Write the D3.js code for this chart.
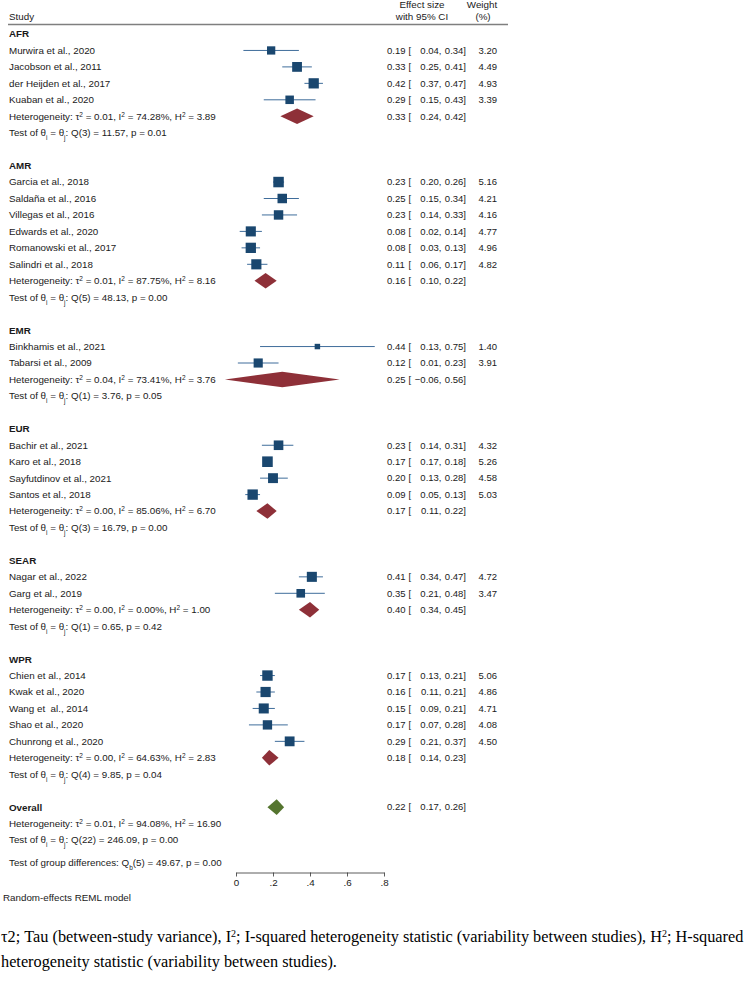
<!DOCTYPE html>
<html>
<head>
<meta charset="utf-8">
<script src="https://cdn.jsdelivr.net/npm/d3@7"></script>
<style>
  body { margin: 0; background: #fff; }
  svg text { font-family: "Liberation Sans", Arial, sans-serif; font-size: 9.8px; fill: #1a1a1a; white-space: pre; }
  svg text.num { font-size: 9.5px; }
  svg text.caption { font-family: "Liberation Serif", "Times New Roman", serif; font-size: 16.3px; fill: #000; }
</style>
</head>
<body>
<div id="chart"></div>
<script>
// forest plot, random-effects REML, grouped by WHO region

const groups = ["AFR", "AMR", "EMR", "EUR", "SEAR", "WPR"];

const studyNames = [
  "Murwira et al., 2020", "Jacobson et al., 2011", "der Heijden et al., 2017", "Kuaban et al., 2020",
  "Garcia et al., 2018", "Saldaña et al., 2016", "Villegas et al., 2016", "Edwards et al., 2020",
  "Romanowski et al., 2017", "Salindri et al., 2018",
  "Binkhamis et al., 2021", "Tabarsi et al., 2009",
  "Bachir et al., 2021", "Karo et al., 2018", "Sayfutdinov et al., 2021", "Santos et al., 2018",
  "Nagar et al., 2022", "Garg et al., 2019",
  "Chien et al., 2014", "Kwak et al., 2020", "Wang et  al., 2014", "Shao et al., 2020", "Chunrong et al., 2020"
];
const studyGroup = [
  "AFR", "AFR", "AFR", "AFR",
  "AMR", "AMR", "AMR", "AMR", "AMR", "AMR",
  "EMR", "EMR",
  "EUR", "EUR", "EUR", "EUR",
  "SEAR", "SEAR",
  "WPR", "WPR", "WPR", "WPR", "WPR"
];
const studyEst = [0.19, 0.33, 0.42, 0.29, 0.23, 0.25, 0.23, 0.08, 0.08, 0.11, 0.44, 0.12,
                  0.23, 0.17, 0.20, 0.09, 0.41, 0.35, 0.17, 0.16, 0.15, 0.17, 0.29];
const studyLo  = [0.04, 0.25, 0.37, 0.15, 0.20, 0.15, 0.14, 0.02, 0.03, 0.06, 0.13, 0.01,
                  0.14, 0.17, 0.13, 0.05, 0.34, 0.21, 0.13, 0.11, 0.09, 0.07, 0.21];
const studyHi  = [0.34, 0.41, 0.47, 0.43, 0.26, 0.34, 0.33, 0.14, 0.13, 0.17, 0.75, 0.23,
                  0.31, 0.18, 0.28, 0.13, 0.47, 0.48, 0.21, 0.21, 0.21, 0.28, 0.37];
const studyWeight = [3.20, 4.49, 4.93, 3.39, 5.16, 4.21, 4.16, 4.77, 4.96, 4.82, 1.40, 3.91,
                     4.32, 5.26, 4.58, 5.03, 4.72, 3.47, 5.06, 4.86, 4.71, 4.08, 4.50];

const groupEst = [0.33, 0.16, 0.25, 0.17, 0.40, 0.18];
const groupLo  = [0.24, 0.10, -0.06, 0.11, 0.34, 0.14];
const groupHi  = [0.42, 0.22, 0.56, 0.22, 0.45, 0.23];
const groupTau2 = ["0.01", "0.01", "0.04", "0.00", "0.00", "0.00"];
const groupI2   = ["74.28", "87.75", "73.41", "85.06", "0.00", "64.63"];
const groupH2   = ["3.89", "8.16", "3.76", "6.70", "1.00", "2.83"];
const groupDf   = [3, 5, 1, 3, 1, 4];
const groupQ    = ["11.57", "48.13", "3.76", "16.79", "0.65", "9.85"];
const groupP    = ["0.01", "0.00", "0.05", "0.00", "0.42", "0.04"];

const overallCI = [0.22, 0.17, 0.26];          // est, lower, upper
const overallHet = ["0.01", "94.08", "16.90"]; // tau2, I2, H2
const overallTest = [22, "246.09", "0.00"];    // df, Q, p
const groupDiffTest = [5, "49.67", "0.00"];    // df, Qb, p

const xTicks = [0, 0.2, 0.4, 0.6, 0.8];

const W = 750, H = 984;
const rowStep = 16.45, firstRow = 34;
const navy = "#1a476f", maroon = "#8e3038", green = "#55752f";

const svg = d3.select("#chart").append("svg")
  .attr("width", W)
  .attr("height", H);

const x = d3.scaleLinear().domain([0, 0.8]).range([236, 384]);
const y = d3.scaleLinear().domain([0, 1]).range([firstRow, firstRow + rowStep]);
const side = d3.scaleSqrt().domain([0, d3.max(studyWeight)]).range([0, 10.6]);
const f2 = d3.format(".2f");

// text with sup / sub pieces
function rich(sel, parts, small) {
  parts.forEach(function(p) {
    const ts = sel.append("tspan").text(p[0]);
    if (p[1] === "sup") ts.attr("baseline-shift", "super").style("font-size", small || "6.5px");
    if (p[1] === "sub") ts.attr("baseline-shift", "sub").style("font-size", small || "6.5px");
  });
}
function label(yy, txt, bold) {
  return svg.append("text")
    .attr("x", 9).attr("y", yy).attr("dy", "0.35em")
    .attr("font-weight", bold ? "bold" : null)
    .text(txt);
}
function hetLine(yy, st) {
  rich(label(yy, ""), [["Heterogeneity: τ"], ["2", "sup"], [" = " + st[0] + ", I"], ["2", "sup"],
    [" = " + st[1] + "%, H"], ["2", "sup"], [" = " + st[2]]]);
}
function testLine(yy, df, q, p) {
  rich(label(yy, ""), [["Test of θ"], ["i", "sub"], [" = θ"], ["j", "sub"],
    [": Q(" + df + ") = " + q + ", p = " + p]]);
}
function ciText(yy, est, lo, hi) {
  const g = svg.append("g").attr("transform", "translate(0," + yy + ")");
  g.append("text").attr("class", "num").attr("x", 387).attr("dy", "0.35em").text(f2(est));
  g.append("text").attr("class", "num").attr("x", 408.5).attr("dy", "0.35em").text("[");
  g.append("text").attr("class", "num").attr("x", 441.5).attr("dy", "0.35em").attr("text-anchor", "end").text(f2(lo) + ",");
  g.append("text").attr("class", "num").attr("x", 466).attr("dy", "0.35em").attr("text-anchor", "end").text(f2(hi) + "]");
}
function diamond(yy, est, lo, hi, col) {
  const hh = 7.8;
  svg.append("path")
    .attr("d", "M" + x(lo) + "," + yy + "L" + x(est) + "," + (yy - hh) +
               "L" + x(hi) + "," + yy + "L" + x(est) + "," + (yy + hh) + "Z")
    .attr("fill", col);
}

// header
svg.append("text").attr("x", 9).attr("y", 17).attr("dy", "0.35em").text("Study");
svg.append("text").attr("x", 422).attr("y", 5).attr("dy", "0.35em").attr("text-anchor", "middle").text("Effect size");
svg.append("text").attr("x", 422).attr("y", 16.5).attr("dy", "0.35em").attr("text-anchor", "middle").text("with 95% CI");
svg.append("text").attr("x", 482).attr("y", 5).attr("dy", "0.35em").attr("text-anchor", "middle").text("Weight");
svg.append("text").attr("x", 483).attr("y", 16.5).attr("dy", "0.35em").attr("text-anchor", "middle").text("(%)");
svg.append("line").attr("x1", 8).attr("x2", 508).attr("y1", 24.5).attr("y2", 24.5)
  .attr("stroke", "#7f7f7f").attr("stroke-width", 1.6);

// body rows
let r = 0;
groups.forEach(function(g, gi) {
  label(y(r++), g, true);
  studyNames.forEach(function(name, i) {
    if (studyGroup[i] !== g) return;
    const yy = y(r++);
    label(yy, name);
    svg.append("line")
      .attr("x1", x(studyLo[i])).attr("x2", x(studyHi[i]))
      .attr("y1", yy).attr("y2", yy)
      .attr("stroke", "#3f6d9b").attr("stroke-width", 1);
    const s = side(studyWeight[i]);
    svg.append("rect")
      .attr("x", x(studyEst[i]) - s / 2).attr("y", yy - s / 2)
      .attr("width", s).attr("height", s)
      .attr("fill", navy);
    ciText(yy, studyEst[i], studyLo[i], studyHi[i]);
    svg.append("text").attr("class", "num").attr("x", 497).attr("y", yy).attr("dy", "0.35em")
      .attr("text-anchor", "end").text(f2(studyWeight[i]));
  });
  const hy = y(r++);
  hetLine(hy, [groupTau2[gi], groupI2[gi], groupH2[gi]]);
  diamond(hy, groupEst[gi], groupLo[gi], groupHi[gi], maroon);
  ciText(hy, groupEst[gi], groupLo[gi], groupHi[gi]);
  testLine(y(r++), groupDf[gi], groupQ[gi], groupP[gi]);
  r++;
});

// overall
const oy = y(r);
label(oy, "Overall", true);
diamond(oy, overallCI[0], overallCI[1], overallCI[2], green);
ciText(oy, overallCI[0], overallCI[1], overallCI[2]);
hetLine(y(r + 1), overallHet);
testLine(y(r + 2), overallTest[0], overallTest[1], overallTest[2]);
rich(label(y(r + 3.35), ""), [["Test of group differences: Q"], ["b", "sub"],
  ["(" + groupDiffTest[0] + ") = " + groupDiffTest[1] + ", p = " + groupDiffTest[2]]]);

// axis
const axis = svg.append("g")
  .attr("transform", "translate(0,872.5)")
  .call(d3.axisBottom(x).tickValues(xTicks).tickSize(4).tickSizeOuter(0)
    .tickFormat(function(d) { return d === 0 ? "0" : d3.format(".1f")(d).replace(/^0/, ""); }));
axis.selectAll("path, line").attr("stroke", "#333").attr("stroke-width", 0.8);
axis.selectAll("text").attr("font-family", null).attr("font-size", null).attr("fill", null);

svg.append("text").attr("x", 3).attr("y", 898).attr("dy", "0.35em").text("Random-effects REML model");

// note below the figure
const cap1 = svg.append("text").attr("class", "caption").attr("x", 1).attr("y", 942);
rich(cap1, [["τ2; Tau (between-study variance), I"], ["2", "sup"],
  ["; I-squared heterogeneity statistic (variability between studies), H"], ["2", "sup"], ["; H-squared"]], "10px");
svg.append("text").attr("class", "caption").attr("x", 1).attr("y", 967)
  .text("heterogeneity statistic (variability between studies).");
</script>
</body>
</html>
